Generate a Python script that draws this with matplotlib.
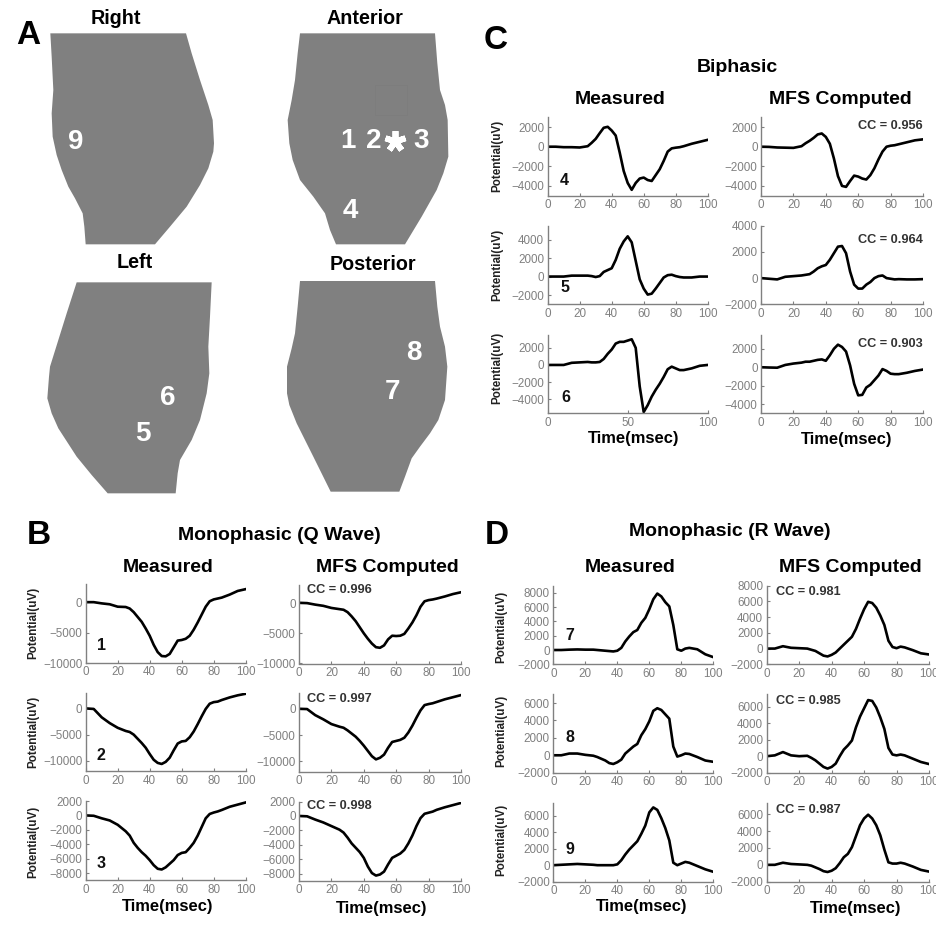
import matplotlib
matplotlib.use("Agg")
import matplotlib.pyplot as plt
from matplotlib.patches import Polygon, Rectangle

plt.rcParams['font.family'] = ['Liberation Sans', 'DejaVu Sans']

W, H = 951, 927

# time grid (msec) shared by every trace
t = [0, 5, 10, 15, 20, 25, 27.5, 30, 32.5, 35, 37.5, 40, 42.5, 45, 47.5, 50, 52.5, 55, 57.5, 60,
     62.5, 65, 67.5, 70, 72.5, 75, 77.5, 80, 82.5, 85, 90, 95, 100]

# panel B, monophasic Q wave
b1_meas = [50, 50, -150, -300, -700, -750, -1000, -1600, -2400, -3200, -4300, -5500, -7000, -8200, -8850, -8900, -8500, -7400, -6300, -6200,
           -6000, -5500, -4500, -3300, -2000, -700, 200, 500, 650, 800, 1300, 1900, 2200]
b1_mfs = [50, 0, -250, -450, -800, -1000, -1100, -1500, -2200, -3000, -4000, -5000, -5900, -6700, -7300, -7400, -7000, -6000, -5400, -5450,
          -5400, -5100, -4200, -3200, -2000, -600, 300, 500, 600, 750, 1100, 1500, 1800]
b2_meas = [0, -100, -1700, -2800, -3700, -4300, -4500, -5000, -5800, -6600, -7500, -8700, -9800, -10400, -10600, -10200, -9400, -8000, -6700, -6300,
           -6200, -5500, -4400, -3000, -1500, -100, 900, 1200, 1300, 1600, 2100, 2500, 2800]
b2_mfs = [0, -50, -1200, -2000, -2900, -3400, -3600, -4100, -4700, -5300, -6100, -7000, -8000, -9000, -9600, -9300, -8700, -7400, -6300, -6100,
          -5900, -5500, -4500, -3200, -1700, -300, 700, 900, 1050, 1300, 1800, 2200, 2600]
b3_meas = [0, -50, -400, -700, -1300, -2200, -2800, -3800, -4500, -5100, -5600, -6200, -6900, -7400, -7500, -7200, -6700, -6200, -5500, -5200,
           -5100, -4500, -3800, -2800, -1600, -400, 200, 400, 550, 750, 1200, 1500, 1800]
b3_mfs = [0, -50, -500, -900, -1400, -1900, -2300, -3000, -3800, -4400, -5000, -5800, -7000, -7900, -8250, -8100, -7700, -6700, -5800, -5500,
          -5200, -4700, -3800, -2700, -1400, -300, 300, 450, 600, 850, 1200, 1500, 1800]

# panel C, biphasic
c1_meas = [0, 0, -50, -50, -80, 50, 400, 800, 1380, 1930, 2030, 1650, 1140, -590, -2480, -3700, -4400, -3700, -3250, -3150,
           -3400, -3500, -2900, -2300, -1450, -500, -170, -100, -50, 50, 300, 500, 700]
c1_mfs = [0, -20, -80, -100, -120, 50, 350, 600, 900, 1250, 1350, 1000, 300, -1200, -3000, -4000, -4100, -3500, -2950, -3050,
          -3250, -3350, -2900, -2200, -1300, -500, 0, 100, 150, 250, 450, 650, 750]
c2_meas = [0, 0, 0, 100, 100, 100, 50, -50, 50, 500, 700, 900, 1800, 3000, 3800, 4350, 3700, 1700, -300, -1300,
           -1950, -1850, -1300, -700, -100, 150, 200, 50, -50, -100, -100, 0, 0]
c2_mfs = [0, -50, -100, 100, 150, 200, 250, 300, 500, 750, 900, 1000, 1400, 1900, 2400, 2450, 1900, 500, -500, -800,
          -800, -500, -300, 0, 150, 200, 0, -50, -100, -80, -100, -100, -80]
c3_meas = [0, 0, 0, 250, 300, 350, 300, 300, 350, 700, 1300, 1800, 2500, 2700, 2700, 2850, 3000, 2000, -2500, -5500,
           -4700, -3700, -2900, -2200, -1400, -500, -200, -400, -600, -600, -400, -100, 0]
c3_mfs = [0, -30, -50, 250, 400, 500, 600, 600, 700, 800, 850, 700, 1300, 2000, 2450, 2200, 1700, 200, -1800, -3050,
          -3000, -2200, -1900, -1400, -900, -200, -400, -700, -750, -750, -600, -400, -250]

# panel D, monophasic R wave
d1_meas = [0, 0, 50, 80, 50, 50, 0, -50, -100, -150, -200, -100, 300, 1200, 1900, 2500, 2800, 3800, 4500, 5700,
           7100, 7900, 7500, 6700, 6100, 3500, 100, -100, 200, 300, 100, -600, -1000]
d1_mfs = [0, 0, 300, 100, 50, 0, -150, -300, -600, -900, -1000, -800, -500, 0, 500, 1000, 1500, 2500, 3800, 5000,
          5950, 5800, 5200, 4200, 3000, 1000, 200, 50, 250, 150, -200, -600, -750]
d2_meas = [0, 0, 200, 200, 50, -50, -200, -400, -600, -900, -1000, -800, -500, 200, 600, 1000, 1300, 2300, 3000, 3900,
           5100, 5400, 5200, 4700, 4200, 1000, -150, 0, 200, 150, -200, -600, -750]
d2_mfs = [0, 100, 500, 100, 0, 50, -200, -500, -900, -1300, -1500, -1300, -900, 0, 800, 1300, 1900, 3500, 4800, 5800,
          6800, 6700, 5900, 4700, 3300, 1000, 200, 100, 200, 100, -300, -700, -950]
d3_meas = [0, 50, 100, 150, 100, 50, 0, 0, 0, 0, 0, 100, 600, 1300, 1900, 2400, 2900, 3800, 4800, 6400,
           7000, 6700, 5700, 4500, 3000, 300, 0, 200, 400, 300, -100, -500, -800]
d3_mfs = [0, 0, 250, 100, 50, 0, -100, -300, -500, -750, -850, -700, -400, 200, 900, 1300, 2100, 3400, 4700, 5500,
          5950, 5500, 4700, 3500, 1800, 300, 150, 150, 250, 150, -200, -600, -800]

cc_b = ['CC = 0.996', 'CC = 0.997', 'CC = 0.998']
cc_c = ['CC = 0.956', 'CC = 0.964', 'CC = 0.903']
cc_d = ['CC = 0.981', 'CC = 0.985', 'CC = 0.987']

# silhouettes, traced on a 3x zoom of the image
torso_right = [(151, 100), (558, 100), (575, 160), (600, 240), (625, 315), (638, 360), (642, 430), (640, 455),
               (625, 505), (600, 555), (560, 620), (510, 680), (465, 733), (257, 733), (253, 680), (248, 640),
               (225, 595), (205, 560), (185, 510), (170, 465), (158, 410), (155, 340), (160, 270), (155, 170)]
torso_anterior = [(900, 100), (1305, 100), (1312, 190), (1320, 270), (1335, 315), (1343, 360), (1345, 470),
                  (1330, 520), (1310, 570), (1265, 650), (1215, 733), (1008, 733), (990, 690), (975, 640),
                  (940, 590), (900, 540), (878, 480), (868, 430), (863, 360), (875, 300), (885, 240), (893, 160)]
torso_left = [(230, 847), (635, 847), (630, 950), (625, 1040), (628, 1120), (620, 1180), (600, 1260), (575, 1320),
              (540, 1380), (533, 1420), (527, 1480), (323, 1480), (275, 1425), (230, 1370), (175, 1285), (155, 1240),
              (142, 1195), (147, 1130), (150, 1100), (175, 1020), (200, 940)]
torso_posterior = [(900, 843), (1305, 843), (1312, 920), (1320, 980), (1335, 1040), (1342, 1100), (1335, 1200),
                   (1315, 1260), (1290, 1300), (1260, 1340), (1235, 1375), (1215, 1430), (1198, 1475), (992, 1475),
                   (940, 1370), (890, 1270), (868, 1215), (861, 1180), (861, 1100), (875, 1045), (885, 1000), (893, 920)]

fig = plt.figure(figsize=(W / 100, H / 100), dpi=100, facecolor='white')

# overlay in pixel coordinates for the torsos and the free labels
ov = fig.add_axes([0, 0, 1, 1], zorder=5)
ov.set_xlim(0, W)
ov.set_ylim(H, 0)
ov.axis('off')
ov.patch.set_alpha(0)

for outline in [torso_right, torso_anterior, torso_left, torso_posterior]:
    ov.add_patch(Polygon([(x / 3, y / 3) for x, y in outline], closed=True, fc='#808080', ec='none'))
ov.add_patch(Rectangle((375, 85), 32, 30, fc='none', ec='#7c7c7c', lw=0.5))


def label(x, y, s, size, color='black', **kw):
    ov.text(x, y, s, fontsize=size, color=color, fontweight='bold', ha=kw.pop('ha', 'center'), va='center', **kw)


for x, y, s in [(116, 18, 'Right'), (365, 18, 'Anterior'), (135, 263, 'Left'), (373, 264, 'Posterior')]:
    label(x, y, s, 14.2)

for x, y, s in [(76, 142, '9'), (348, 141, '1'), (374, 141, '2'), (421, 141, '3'), (350, 211, '4'),
                (168, 398, '6'), (143, 434, '5'), (414, 353, '8'), (392, 392, '7')]:
    label(x, y, s, 20, color='white')
ov.plot([395], [141], marker=(5, 2, 0), ms=15, mew=4.2, color='white', ls='none')

for x, y, s in [(28, 35, 'A'), (496, 40, 'C'), (39, 536, 'B'), (497, 535, 'D')]:
    label(x, y, s, 24)

for x, y, s in [(737, 67, 'Biphasic'), (279, 535, 'Monophasic (Q Wave)'), (730, 532, 'Monophasic (R Wave)')]:
    label(x, y, s, 14)

for x, y in [(620, 99), (168, 568), (630, 567)]:
    label(x, y, 'Measured', 14)
for x, y in [(840, 99), (387, 568), (850, 567)]:
    label(x, y, 'MFS Computed', 14)
for x, y in [(634, 438), (847, 439), (168, 906), (382, 908), (642, 907), (856, 909)]:
    label(x, y, 'Time(msec)', 11.9)

for x, ys in [(33, (623, 732, 842)), (497, (156, 265, 368)), (501, (627, 731, 840))]:
    for y in ys:
        label(x, y, 'Potential(uV)', 8.4, color='#222222', rotation=90)

for x, y, s in [(101, 645, '1'), (101, 755, '2'), (101, 863, '3'),
                (564, 180, '4'), (565, 288, '5'), (566, 397, '6'),
                (570, 635, '7'), (570, 737, '8'), (570, 849, '9')]:
    label(x, y, s, 11.5, color='#111111')

for y, s in zip((126, 240, 344), cc_c):
    label(923, y, s, 9.2, color='#333333', ha='right')
for y, s in zip((590, 699, 806), cc_b):
    label(307, y, s, 9.2, color='#333333', ha='left')
for y, s in zip((592, 701, 810), cc_d):
    label(776, y, s, 9.2, color='#333333', ha='left')


def draw(x0, x1, y0, y1, values, ylim, yticks, xticks=(0, 20, 40, 60, 80, 100)):
    ax = fig.add_axes([x0 / W, 1 - y1 / H, (x1 - x0) / W, (y1 - y0) / H])
    ax.plot(t, values, color='black', lw=1.9, solid_joinstyle='round')
    ax.set_xlim(0, 100)
    ax.set_ylim(*ylim)
    ax.set_xticks(list(xticks))
    ax.set_yticks(list(yticks))
    ax.spines['top'].set_visible(False)
    ax.spines['right'].set_visible(False)
    for side in ('left', 'bottom'):
        ax.spines[side].set_color('#808080')
        ax.spines[side].set_linewidth(1.0)
    ax.tick_params(direction='in', length=2.5, width=0.8, color='#808080', labelcolor='#808080',
                   labelsize=8.4, pad=2.5)


q1 = (-10000, -5000, 0)
q2 = (-10000, -5000, 0)
q3 = (-8000, -6000, -4000, -2000, 0, 2000)
draw(85.7, 245.7, 584.3, 663, b1_meas, (-10000, 3000), q1)
draw(299, 461, 585, 663.5, b1_mfs, (-10000, 3000), q1)
draw(85.7, 245.7, 692.7, 771.3, b2_meas, (-12000, 3000), q2)
draw(299, 461, 693, 772, b2_mfs, (-12000, 3000), q2)
draw(85.7, 245.7, 801, 880.3, b3_meas, (-9000, 2000), q3)
draw(299, 461, 801.5, 881, b3_mfs, (-9000, 2000), q3)

draw(547.7, 707.7, 117.3, 195.7, c1_meas, (-5000, 3000), (-4000, -2000, 0, 2000))
draw(761, 923, 117.3, 195.7, c1_mfs, (-5000, 3000), (-4000, -2000, 0, 2000))
draw(547.7, 707.7, 225.7, 304.3, c2_meas, (-3000, 5500), (-2000, 0, 2000, 4000))
draw(761, 923, 225.7, 304.3, c2_mfs, (-2000, 4000), (-2000, 0, 2000, 4000))
draw(547.7, 707.7, 335, 413.3, c3_meas, (-5650, 3500), (-4000, -2000, 0, 2000), xticks=(0, 50, 100))
draw(761, 923, 335, 413.3, c3_mfs, (-5000, 3500), (-4000, -2000, 0, 2000))

r1 = (-2000, 0, 2000, 4000, 6000, 8000)
r2 = (-2000, 0, 2000, 4000, 6000)
draw(553.3, 713.3, 585.7, 664.3, d1_meas, (-2000, 9000), r1)
draw(766.7, 929, 585.7, 664.3, d1_mfs, (-2000, 8000), r1)
draw(553.3, 713.3, 694.3, 772.7, d2_meas, (-2000, 7000), r2)
draw(766.7, 929, 694.3, 772.7, d2_mfs, (-2000, 7500), r2)
draw(553.3, 713.3, 803.3, 881.7, d3_meas, (-2000, 7500), r2)
draw(766.7, 929, 803.3, 881.7, d3_mfs, (-2000, 7300), r2)

# the source image is cropped on the right, cutting the last tick label of panel D
ov.add_patch(Rectangle((936, 660), 15, 240, fc='white', ec='none', zorder=10))

fig.savefig('out.png', dpi=100)
